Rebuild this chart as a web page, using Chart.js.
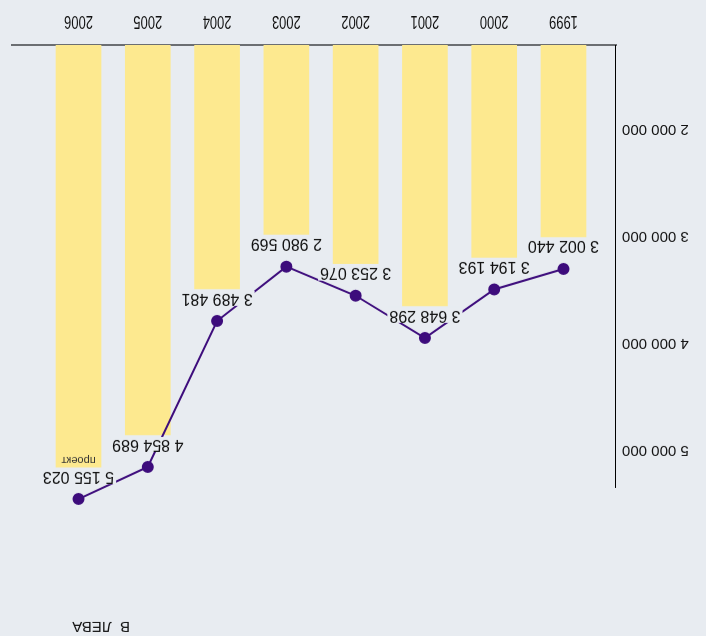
<!DOCTYPE html>
<html>
<head>
<meta charset="utf-8">
<script src="https://cdn.jsdelivr.net/npm/chart.js@4/dist/chart.umd.min.js"></script>
<style>
  html, body { margin: 0; padding: 0; background: #e8ecf1; }
  #wrap { width: 706px; height: 636px; transform: rotate(180deg); }
  canvas { display: block; }
</style>
</head>
<body>
<div id="wrap"><canvas id="c" width="706" height="636"></canvas></div>
<script>
// ---- data ----
const years = ['1999', '2000', '2001', '2002', '2003', '2004', '2005', '2006'];
const amounts = [3002440, 3194193, 3648298, 3253076, 2980569, 3489481, 4854689, 5155023];
const notes = ['', '', '', '', '', '', '', 'проект'];
const yTicks = [2000000, 3000000, 4000000, 5000000];
const unitTitle = 'В  ЛЕВА';

const BG = '#e8ecf1';
const fmt = v => String(v).replace(/\B(?=(\d{3})+(?!\d))/g, ' ');

const bgPlugin = {
  id: 'bg',
  beforeDraw(chart) {
    const ctx = chart.ctx;
    ctx.save();
    ctx.fillStyle = BG;
    ctx.fillRect(0, 0, chart.width, chart.height);
    ctx.restore();
  }
};

const AXIS_TOP_GAP = 38; // y-axis line starts a bit below the plot top

const decoPlugin = {
  id: 'deco',
  beforeDatasetsDraw(chart) {
    const ctx = chart.ctx, a = chart.chartArea;
    ctx.save();
    ctx.strokeStyle = '#000';
    ctx.lineWidth = 1;
    ctx.beginPath();
    ctx.moveTo(a.left + 0.5, a.top + AXIS_TOP_GAP);
    ctx.lineTo(a.left + 0.5, a.bottom);
    ctx.stroke();
    ctx.restore();
  },
  afterDatasetsDraw(chart) {
    const ctx = chart.ctx, a = chart.chartArea;
    const barMeta = chart.getDatasetMeta(1);
    ctx.save();
    barMeta.data.forEach((bar, i) => {
      const txt = fmt(amounts[i]);
      ctx.font = '16px "Liberation Sans", Arial, sans-serif';
      const w = ctx.measureText(txt).width;
      const x = bar.x, y = bar.y - 2;
      ctx.fillStyle = BG;
      ctx.fillRect(x - w / 2 - 2, y - 15, w + 4, 15);
      ctx.fillStyle = '#111';
      ctx.textAlign = 'center';
      ctx.textBaseline = 'bottom';
      ctx.fillText(txt, x, y + 1);
      if (notes[i]) {
        ctx.font = '11px "Liberation Sans", Arial, sans-serif';
        ctx.fillStyle = '#333';
        ctx.textBaseline = 'top';
        ctx.fillText(notes[i], x, bar.y + 2);
      }
    });
    // category labels (condensed)
    const xs = chart.scales.x;
    ctx.font = '19px "Liberation Sans", Arial, sans-serif';
    ctx.fillStyle = '#111';
    ctx.textAlign = 'center';
    ctx.textBaseline = 'top';
    years.forEach((yr, i) => {
      ctx.save();
      ctx.translate(xs.getPixelForValue(i), a.bottom + 14);
      ctx.scale(0.68, 1);
      ctx.fillText(yr, 0, 0);
      ctx.restore();
    });
    // unit title
    ctx.font = '15px "Liberation Sans", Arial, sans-serif';
    ctx.textAlign = 'left';
    ctx.fillText(unitTitle, 576, 2);
    ctx.restore();
  }
};

const pts = amounts.map((v, i) => ({ x: i, y: v }));

new Chart(document.getElementById('c'), {
  data: {
    datasets: [
      {
        type: 'line',
        data: pts,
        yAxisID: 'y2',
        borderColor: '#3d0c7c',
        backgroundColor: '#3d0c7c',
        pointBackgroundColor: '#3d0c7c',
        pointBorderColor: '#3d0c7c',
        borderWidth: 2,
        pointRadius: 5,
        tension: 0,
        order: 0
      },
      {
        type: 'bar',
        data: pts,
        yAxisID: 'y',
        backgroundColor: '#fde98f',
        barThickness: 45,
        order: 1
      }
    ]
  },
  options: {
    responsive: false,
    devicePixelRatio: 1,
    animation: false,
    layout: { padding: { top: 110, right: 12, left: 0, bottom: 0 } },
    plugins: { legend: { display: false }, tooltip: { enabled: false } },
    scales: {
      x: {
        type: 'linear',
        offset: false,
        min: -0.758,
        max: 7.96,
        afterBuildTicks: s => { s.ticks = years.map((_, i) => ({ value: i })); },
        afterFit: s => { s.height = 45; },
        grid: { drawOnChartArea: false, drawTicks: false },
        border: { color: '#6b6e72', width: 2 },
        ticks: { display: false }
      },
      y: {
        min: 1210000,
        max: 5705000,
        afterBuildTicks: s => { s.ticks = yTicks.map(v => ({ value: v })); },
        afterFit: s => { s.width = 90; },
        grid: { drawOnChartArea: false, drawTicks: false },
        border: { display: false },
        ticks: {
          padding: 6,
          color: '#111',
          font: { family: '"Liberation Sans", Arial, sans-serif', size: 15 },
          callback: v => fmt(v)
        }
      },
      y2: {
        display: false,
        min: 907000,
        max: 5407000
      }
    }
  },
  plugins: [bgPlugin, decoPlugin]
});
</script>
</body>
</html>
